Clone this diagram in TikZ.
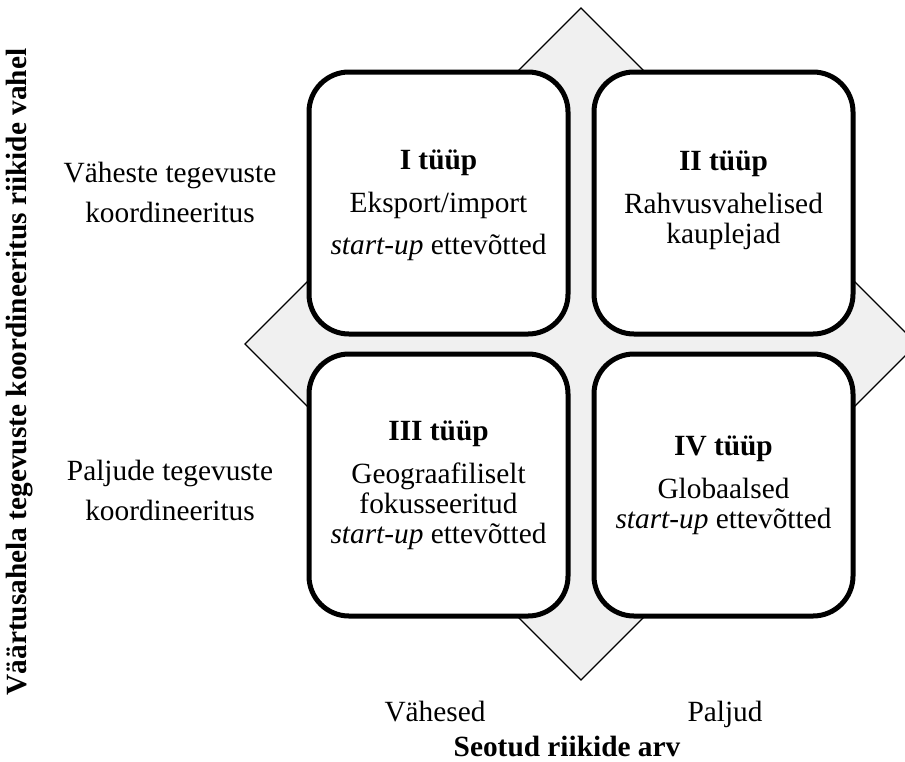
\documentclass[tikz,border=0pt]{standalone}
\usepackage{fontspec}
\setmainfont{Liberation Serif}
\definecolor{diamondgray}{HTML}{F0F0F0}
\tikzset{
  typebox/.style={draw=black, line width=3.75pt, fill=white, rounded corners=30pt,
    minimum width=194.25pt, minimum height=196.5pt, inner sep=0pt},
  boxtext/.style={align=center, font=\fontsize{22}{22.5}\selectfont, inner sep=0pt},
  sidetext/.style={align=center, font=\fontsize{22}{30}\selectfont, inner sep=0pt},
  axistext/.style={font=\fontsize{22}{22.5}\selectfont\bfseries, inner sep=0pt},
  plaintext/.style={font=\fontsize{22}{22.5}\selectfont, inner sep=0pt}
}
\begin{document}
\begin{tikzpicture}[x=0.75pt, y=-0.75pt]
\useasboundingbox (0,0) rectangle (905,761);
\clip (0,0) rectangle (905,761);
% diamond
\coordinate (dt) at (581,8);
\coordinate (dr) at (917,344);
\coordinate (db) at (581,680);
\coordinate (dl) at (245,344);
\draw[fill=diamondgray, line width=1pt] (dt) -- (dr) -- (db) -- (dl) -- cycle;
% boxes
\node[typebox] (b1) at (438.5,203) {};
\node[typebox] (b2) at (723.5,203) {};
\node[typebox] (b3) at (438.5,485) {};
\node[typebox] (b4) at (723.5,485) {};
\node[boxtext] (t1) at (438.5,205) {\textbf{I tüüp}\\[10pt]Eksport/import\\[9pt]\textit{start-up} ettevõtted};
\node[boxtext] (t2) at (723.5,200) {\textbf{II tüüp}\\[10pt]Rahvusvahelised\\kauplejad};
\node[boxtext] (t3) at (b3.center) {\textbf{III tüüp}\\[10pt]Geograafiliselt\\fokusseeritud\\\textit{start-up} ettevõtted};
\node[boxtext] (t4) at (b4.center) {\textbf{IV tüüp}\\[10pt]Globaalsed\\\textit{start-up} ettevõtted};
% side labels
\node[sidetext] (s1) at (170,192) {Väheste tegevuste\\koordineeritus};
\node[sidetext] (s2) at (170,490) {Paljude tegevuste\\koordineeritus};
\node[axistext, rotate=90] (ay) at (20,372) {Väärtusahela tegevuste koordineeritus riikide vahel};
% bottom labels
\node[plaintext, anchor=base] (x1) at (435,721) {Vähesed};
\node[plaintext, anchor=base] (x2) at (725,721) {Paljud};
\node[axistext, anchor=base] (ax) at (567,756) {Seotud riikide arv};
\end{tikzpicture}
\end{document}
